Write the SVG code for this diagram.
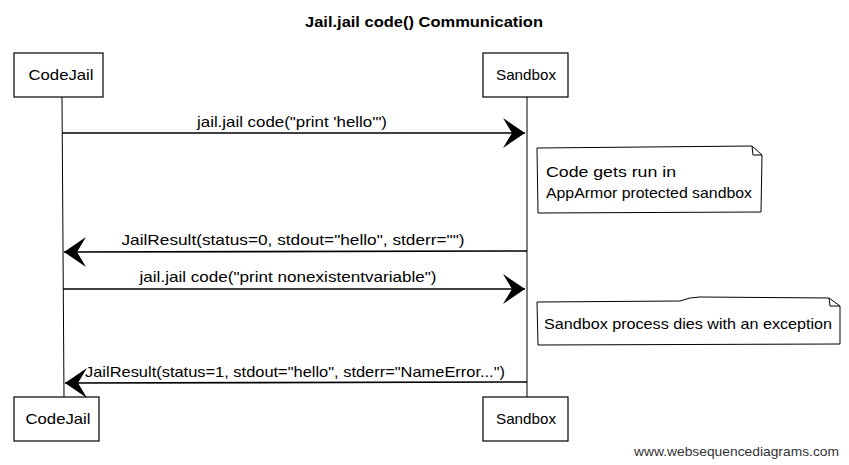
<svg xmlns="http://www.w3.org/2000/svg" width="849" height="465" viewBox="0 0 849 465">
<defs>
<style>
text{font-family:"Liberation Sans",Arial,sans-serif;fill:#000}
.lbl{font-size:14.5px;text-anchor:middle}
.box{fill:#fff;stroke:#000;stroke-width:1.2}
.life{stroke:#000;stroke-width:1;fill:none}
.msg{stroke:#000;stroke-width:1.6;fill:none}
.note{fill:#fff;stroke:#000;stroke-width:1}
.nt{font-size:14.5px}
.ttl{font-size:14.5px;font-weight:bold;text-anchor:middle}
.foot{font-size:13px;fill:#333}
</style>
<marker id="ah" markerUnits="userSpaceOnUse" markerWidth="30" markerHeight="32" viewBox="-24 -16 26 32" refX="0" refY="0" orient="auto">
<path d="M0,0 L-22,-15 L-13,0 L-22,15 Z" fill="#000"/>
</marker>
</defs>
<rect width="849" height="465" fill="#fff"/>
<text class="ttl" x="424" y="27" textLength="238" lengthAdjust="spacingAndGlyphs">Jail.jail code() Communication</text>
<g id="lifelines">
<path class="life" d="M62,97 L64,398"/>
<path class="life" d="M527,97 L527,398"/>
</g>
<g id="CodeJail_top"><rect class="box" x="14" y="53" width="89" height="44"/><text class="lbl" x="61" y="80" textLength="65" lengthAdjust="spacingAndGlyphs">CodeJail</text></g>
<g id="Sandbox_top"><rect class="box" x="483" y="53" width="85" height="44"/><text class="lbl" x="526" y="80" textLength="60" lengthAdjust="spacingAndGlyphs">Sandbox</text></g>
<g id="CodeJail_bottom"><rect class="box" x="14" y="397" width="85" height="44"/><text class="lbl" x="58" y="424" textLength="65" lengthAdjust="spacingAndGlyphs">CodeJail</text></g>
<g id="Sandbox_bottom"><rect class="box" x="483" y="397" width="85" height="44"/><text class="lbl" x="526" y="424" textLength="60" lengthAdjust="spacingAndGlyphs">Sandbox</text></g>
<g id="note1"><path class="note" d="M537,148 L752,146 L762,155 L761,212 L538,213 Z M752,146 L753,155 L762,155"/>
<text class="nt" x="546" y="177" textLength="130" lengthAdjust="spacingAndGlyphs">Code gets run in</text>
<text class="nt" x="546" y="198" textLength="206" lengthAdjust="spacingAndGlyphs">AppArmor protected sandbox</text></g>
<g id="note2"><path class="note" d="M537,302 L680,301 Q690,297 700,297 L829,298 L840,306 L840,344 L538,345 Z M829,298 L830,306 L840,306"/>
<text class="nt" x="544" y="329" textLength="288" lengthAdjust="spacingAndGlyphs">Sandbox process dies with an exception</text></g>
<g id="connectors">
<path class="msg" d="M62,133 L525,133" marker-end="url(#ah)"/>
<path class="msg" d="M527,251 L64,252" marker-end="url(#ah)"/>
<path class="msg" d="M63,289 L525,289" marker-end="url(#ah)"/>
<path class="msg" d="M527,382 L65,383" marker-end="url(#ah)"/>
</g>
<g id="labels">
<text class="lbl" x="292" y="127" textLength="190" lengthAdjust="spacingAndGlyphs">jail.jail code("print 'hello'")</text>
<text class="lbl" x="293" y="245" textLength="343" lengthAdjust="spacingAndGlyphs">JailResult(status=0, stdout="hello", stderr="")</text>
<text class="lbl" x="288" y="282" textLength="297" lengthAdjust="spacingAndGlyphs">jail.jail code("print nonexistentvariable")</text>
<text class="lbl" x="295" y="377" textLength="420" lengthAdjust="spacingAndGlyphs">JailResult(status=1, stdout="hello", stderr="NameError...")</text>
</g>
<text class="foot" x="634" y="456" textLength="205" lengthAdjust="spacingAndGlyphs">www.websequencediagrams.com</text>
</svg>
